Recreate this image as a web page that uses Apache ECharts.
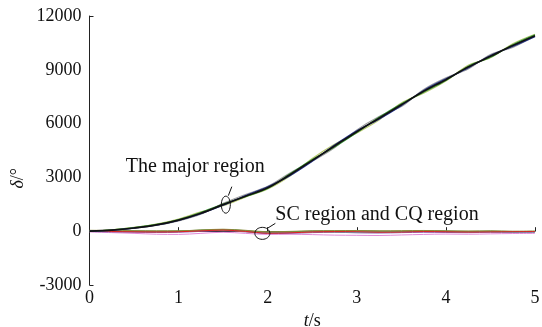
<!DOCTYPE html>
<html>
<head>
<meta charset="utf-8">
<script src="https://cdn.jsdelivr.net/npm/echarts@6/dist/echarts.min.js"></script>
<style>
  html, body { margin: 0; padding: 0; background: #fff; }
  #chart { width: 542px; height: 327px; }
</style>
</head>
<body>
<div id="chart"></div>
<script>
// Time samples (s)
const times = [0, 0.25, 0.5, 0.75, 1, 1.25, 1.5, 1.75, 2, 2.25, 2.5, 2.75, 3, 3.25, 3.5, 3.75, 4, 4.25, 4.5, 4.75, 5];

// Axis ticks
const yTicks = [-3000, 0, 3000, 6000, 9000, 12000];
const xTicks = [0, 1, 2, 3, 4, 5];

// The major region: accumulated angle δ (°)
const major1 = [0, 60, 180, 350, 620, 1000, 1480, 1950, 2420, 3150, 3950, 4750, 5550, 6300, 7050, 7800, 8450, 9150, 9750, 10350, 10900];
const major2 = [0, 50, 170, 330, 600, 980, 1450, 1990, 2480, 3100, 3900, 4800, 5600, 6250, 7000, 7850, 8500, 9100, 9800, 10300, 10850];
const major3 = [0, 70, 200, 380, 650, 1050, 1520, 1930, 2380, 3200, 4000, 4700, 5500, 6350, 7100, 7750, 8400, 9200, 9700, 10400, 10950];
const major4 = [0, 40, 160, 320, 580, 950, 1550, 2050, 2500, 3250, 3900, 4650, 5650, 6400, 6950, 7900, 8550, 9050, 9850, 10250, 10900];
const major5 = [0, 80, 210, 400, 680, 1080, 1420, 1900, 2350, 3080, 4050, 4850, 5480, 6200, 7150, 7700, 8380, 9250, 9680, 10450, 10980];

// SC region and CQ region
const sc1 = [0, -20, -30, -40, -30, 20, 60, -10, -110, -90, -40, -20, -30, -60, -50, -20, -30, -50, -40, -30, -20];
const sc2 = [-40, -80, -120, -170, -180, -120, -60, -120, -180, -170, -190, -220, -230, -240, -210, -180, -160, -170, -150, -130, -120];
const sc3 = [30, 20, 10, 0, 10, 60, 90, 30, -50, -30, 10, 20, 30, 10, 0, 20, 10, -10, 0, -20, -10];
const sc4 = [10, 0, -10, -20, -10, 40, 80, 20, -70, -60, -10, -30, -60, -70, -40, 0, -20, -40, -30, -50, -40];
const sc5 = [50, 40, 30, 20, 20, 70, 110, 50, -30, -10, 20, 30, 40, 20, 30, 40, 20, 10, 20, 0, 10];
const sc6 = [-20, -40, -60, -70, -60, -10, 30, -40, -130, -120, -80, -60, -90, -100, -80, -60, -70, -80, -60, -70, -60];
const sc7 = [0, 10, 0, -10, 0, 50, 70, 10, -60, -40, 0, -10, -20, -30, -10, 10, 0, -20, -10, -30, -20];
const sc8 = [20, 0, -20, -30, -20, 30, 50, -20, -90, -70, -30, -40, -50, -40, -20, -10, -20, -30, -10, -20, -30];

const scLines = [
  { d: sc2, c: '#e08ad8' },
  { d: sc6, c: '#8a5ab0' },
  { d: sc8, c: '#9a6a3a' },
  { d: sc7, c: '#a0a0a0' },
  { d: sc4, c: '#5aa8d0' },
  { d: sc3, c: '#4aa04a' },
  { d: sc5, c: '#8a8a3a' },
  { d: sc1, c: '#e02020' }
];
const majorLines = [
  { d: major5, c: '#b8c870' },
  { d: major4, c: '#a0a0a0' },
  { d: major3, c: '#3a9a3a' },
  { d: major2, c: '#25358f' },
  { d: major1, c: '#111111' }
];

const pair = d => d.map((v, i) => [times[i], v]);
const FONT = 'Liberation Serif';

const series = [];
scLines.forEach(s => series.push({
  type: 'line', data: pair(s.d), showSymbol: false, smooth: 0.35,
  lineStyle: { color: s.c, width: 1 }, silent: true, z: 2
}));
majorLines.forEach((s, i) => series.push({
  type: 'line', data: pair(s.d), showSymbol: false, smooth: 0.35,
  lineStyle: { color: s.c, width: i === majorLines.length - 1 ? 1.7 : 1.2 }, silent: true, z: 3
}));

const chart = echarts.init(document.getElementById('chart'));
chart.setOption({
  animation: false,
  backgroundColor: '#fff',
  grid: { left: 89.5, right: 7, top: 16, bottom: 42, containLabel: false, outerBoundsMode: 'none' },
  xAxis: {
    type: 'value', min: xTicks[0], max: xTicks[xTicks.length - 1], interval: 1,
    name: '{i|t}/s', nameLocation: 'middle', nameGap: 24,
    nameTextStyle: { fontFamily: FONT, fontSize: 18, color: '#111',
      rich: { i: { fontFamily: FONT, fontStyle: 'italic', fontSize: 18, color: '#111' } } },
    axisLine: { lineStyle: { color: '#222', width: 1 } },
    axisTick: { inside: true, length: 4, lineStyle: { color: '#222' } },
    axisLabel: { fontFamily: FONT, fontSize: 18, color: '#111', margin: 4, formatter: v => String(v) },
    splitLine: { show: false }
  },
  yAxis: [{
    type: 'value', min: yTicks[0], max: yTicks[yTicks.length - 1], interval: 3000,
    axisLine: { show: true, lineStyle: { color: '#222', width: 1 } },
    axisTick: { show: false },
    axisLabel: { fontFamily: FONT, fontSize: 18, color: '#111', margin: 8, formatter: v => String(v) },
    splitLine: { show: false }
  }, {
    // end ticks of the vertical axis
    type: 'value', position: 'left', min: yTicks[0], max: yTicks[yTicks.length - 1], interval: 15000,
    axisLine: { show: false },
    axisTick: { show: true, inside: true, length: 4, lineStyle: { color: '#222' } },
    axisLabel: { show: false },
    splitLine: { show: false }
  }],
  series: series
});

// Axis title and annotation callouts placed in data coordinates
function callouts() {
  const p = (t, v) => chart.convertToPixel({ gridIndex: 0 }, [t, v]);
  const a = p(1.53, 1480);
  const b = p(1.94, -120);
  const yl = p(0, 2950);
  const txtStyle = { fontFamily: FONT, fontSize: 20, fill: '#111' };
  chart.setOption({
    graphic: [
      { type: 'text', x: yl[0] - 71, y: yl[1], rotation: Math.PI / 2,
        style: { text: '{i|δ}/°', fontFamily: FONT, fontSize: 18, fill: '#111', align: 'center', verticalAlign: 'middle',
          rich: { i: { fontFamily: FONT, fontStyle: 'italic', fontSize: 18, fill: '#111' } } }, z: 10 },
      { type: 'ellipse', shape: { cx: a[0], cy: a[1], rx: 4.5, ry: 8.5 },
        style: { fill: 'none', stroke: '#111', lineWidth: 1 }, z: 10 },
      { type: 'line', shape: { x1: a[0] + 2.5, y1: a[1] - 9, x2: a[0] + 6, y2: a[1] - 18 },
        style: { stroke: '#111', lineWidth: 1 }, z: 10 },
      { type: 'text', x: a[0] - 100, y: a[1] - 38,
        style: Object.assign({ text: 'The major region', align: 'left', verticalAlign: 'middle' }, txtStyle), z: 10 },
      { type: 'ellipse', shape: { cx: b[0], cy: b[1], rx: 7.5, ry: 6 },
        style: { fill: 'none', stroke: '#111', lineWidth: 1 }, z: 10 },
      { type: 'line', shape: { x1: b[0] + 5, y1: b[1] - 5, x2: b[0] + 13, y2: b[1] - 10 },
        style: { stroke: '#111', lineWidth: 1 }, z: 10 },
      { type: 'text', x: b[0] + 13, y: b[1] - 19,
        style: Object.assign({ text: 'SC region and CQ region', align: 'left', verticalAlign: 'middle' }, txtStyle), z: 10 }
    ]
  });
}
callouts();
</script>
</body>
</html>
